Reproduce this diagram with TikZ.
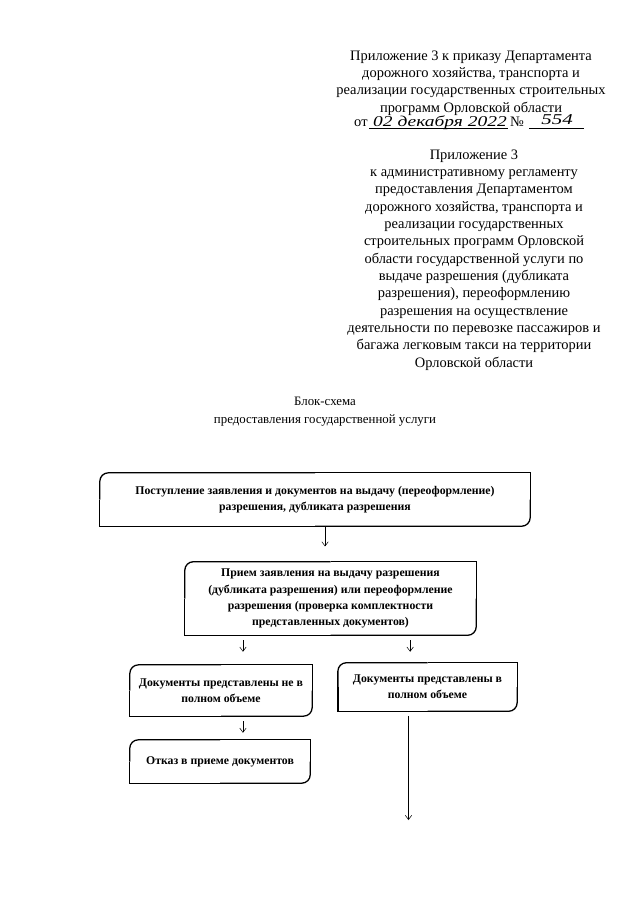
\documentclass[tikz,border=0pt]{standalone}
\usepackage{fontspec}
\setmainfont{Liberation Serif}
\usetikzlibrary{arrows.meta, positioning}

\tikzset{
  shapka/.style={font=\fontsize{13.5}{16.2}\selectfont, align=center, inner sep=0pt},
  zagolovok/.style={font=\fontsize{12}{16.5}\selectfont, align=center, inner sep=0pt},
  ruka/.style={font=\fontsize{14}{14}\selectfont\itshape, inner sep=0pt},
  blok/.style={font=\fontsize{11}{15}\selectfont\bfseries, align=center, inner sep=0pt},
  kontur/.style={line width=1.2pt},
  strelka/.style={-{Straight Barb[length=4pt, width=6pt]}, line width=0.5pt},
}

\begin{document}
\begin{tikzpicture}[x=0.3282mm, y=-0.3282mm]
\useasboundingbox (0,0) rectangle (640,905);

% Шапка приказа
\node[shapka] (prikaz) at (471,83) {Приложение 3 к приказу Департамента\\
  дорожного хозяйства, транспорта и\\
  реализации государственных строительных\\
  программ Орловской области};
\node[shapka, anchor=base west] (ot) at (354,127) {от};
\node[ruka, anchor=base] (data) at (440,126) {\scalebox{1.3}[1]{02 декабря 2022}};
\node[shapka, anchor=base west] (nomer) at (510,127) {№};
\node[ruka, anchor=base] (num) at (557,125) {\scalebox{1.4}[1]{554}};
\draw[line width=0.5pt] (369,128) -- (508,128);
\draw[line width=0.5pt] (529,128) -- (584,128);

% Приложение к регламенту
\node[shapka] (reglament) at (474,260) {Приложение 3\\
  к административному регламенту\\
  предоставления Департаментом\\
  дорожного хозяйства, транспорта и\\
  реализации государственных\\
  строительных программ Орловской\\
  области государственной услуги по\\
  выдаче разрешения (дубликата\\
  разрешения), переоформлению\\
  разрешения на осуществление\\
  деятельности по перевозке пассажиров и\\
  багажа легковым такси на территории\\
  Орловской области};

% Название
\node[zagolovok] (nazvanie) at (325,412) {Блок-схема\\
  предоставления государственной услуги};

% Блоки
\node[blok, minimum width=141.1mm, minimum height=17.4mm] (post) at (315,499.5)
  {Поступление заявления и документов на выдачу (переоформление)\\
   разрешения, дубликата разрешения};
\node[blok, minimum width=95.5mm, minimum height=24mm] (priem) at (330.5,598.5)
  {Прием заявления на выдачу разрешения\\
   (дубликата разрешения) или переоформление\\
   разрешения (проверка комплектности\\
   представленных документов)};
\node[blok, minimum width=59.7mm, minimum height=16.7mm] (nepoln) at (221,690.5)
  {Документы представлены не в\\ полном объеме};
\node[blok, minimum width=58.7mm, minimum height=15.8mm] (poln) at (427.5,687)
  {Документы представлены в\\ полном объеме};
\node[blok, minimum width=59.1mm, minimum height=14.1mm] (otkaz) at (220,761.5)
  {Отказ в приеме документов};
\coordinate (konec) at (408.5,820);

% Рамки: скругления слева сверху и справа снизу
\foreach \b in {post, priem, nepoln, poln, otkaz} {
  \draw[kontur] (\b.north) -- (\b.north east) -- (\b.east);
  \draw[kontur, rounded corners=2.8mm] (\b.east) -- (\b.south east) -- (\b.south);
  \draw[kontur] (\b.south) -- (\b.south west) -- (\b.west);
  \draw[kontur, rounded corners=2.8mm] (\b.west) -- (\b.north west) -- (\b.north);
}

% Стрелки
\draw[strelka, shorten >=5mm] ([xshift=3.3mm]post.south) -- ([xshift=3.3mm]post.south |- priem.north);
\draw[strelka, shorten <=1.6mm, shorten >=4.3mm] ([xshift=7.2mm]nepoln.north |- priem.south) -- ([xshift=7.2mm]nepoln.north);
\draw[strelka, shorten <=1.6mm, shorten >=3.6mm] ([xshift=-5.7mm]poln.north |- priem.south) -- ([xshift=-5.7mm]poln.north);
\draw[strelka, shorten <=1.6mm, shorten >=2.3mm] ([xshift=7.2mm]nepoln.south) -- ([xshift=7.2mm]nepoln.south |- otkaz.north);
\draw[strelka, shorten <=1.5mm] (poln.south -| konec) -- (konec);

\end{tikzpicture}
\end{document}
